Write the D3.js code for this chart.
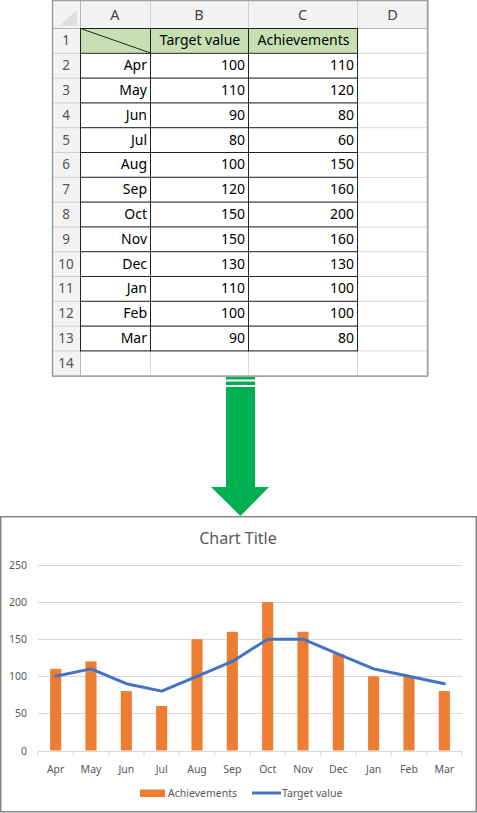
<!DOCTYPE html>
<html><head><meta charset="utf-8">
<script src="https://cdn.jsdelivr.net/npm/d3@7"></script>
<style>body{margin:0;background:#fff}svg{display:block}</style>
</head><body>
<script>
const months = ["Apr","May","Jun","Jul","Aug","Sep","Oct","Nov","Dec","Jan","Feb","Mar"];
const targetValues = [100,110,90,80,100,120,150,150,130,110,100,90];
const achievements = [110,120,80,60,150,160,200,160,130,100,100,80];
const yTicks = [0,50,100,150,200,250];
const colLetters = ["A","B","C","D"];
const seriesNames = ["Target value","Achievements"];
const chartTitle = "Chart Title";

const W = 477, H = 813;
const svg = d3.select("body").append("svg").attr("width", W).attr("height", H);
const font = "'Noto Sans', 'Open Sans', sans-serif";

/* ---------- spreadsheet ---------- */
const colEdges = [52, 80, 150, 248, 357, 428];
const headerH = 28, rowH = 24.8, nRows = 14;
const rowTop = r => headerH + (r - 1) * rowH; // r = 1..14
const sheet = svg.append("g");
sheet.append("rect").attr("x", colEdges[0]).attr("y", 0)
  .attr("width", colEdges[5] - colEdges[0]).attr("height", rowTop(nRows + 1))
  .attr("fill", "#fff");
sheet.append("rect").attr("x", colEdges[0]).attr("y", 0)
  .attr("width", colEdges[5] - colEdges[0]).attr("height", headerH).attr("fill", "#f3f3f3");
sheet.append("rect").attr("x", colEdges[0]).attr("y", 0)
  .attr("width", colEdges[1] - colEdges[0]).attr("height", rowTop(nRows + 1)).attr("fill", "#f3f3f3");
sheet.append("path").attr("d", `M${colEdges[1]-3},${10} L${colEdges[1]-3},${headerH-2} L${colEdges[1]-21},${headerH-2} Z`)
  .attr("fill", "#dfdfdf");
sheet.append("rect").attr("x", colEdges[1]).attr("y", rowTop(1))
  .attr("width", colEdges[4] - colEdges[1]).attr("height", rowH).attr("fill", "#c6e0b4");
for (let r = 1; r <= nRows + 1; r++) {
  sheet.append("line").attr("x1", colEdges[1]).attr("x2", colEdges[5])
    .attr("y1", rowTop(r) + 0.5).attr("y2", rowTop(r) + 0.5).attr("stroke", "#d9d9d9");
  sheet.append("line").attr("x1", colEdges[0]).attr("x2", colEdges[1])
    .attr("y1", rowTop(r) + 0.5).attr("y2", rowTop(r) + 0.5).attr("stroke", "#d0d0d0");
}
for (let c = 1; c < colEdges.length; c++) {
  sheet.append("line").attr("x1", colEdges[c] + 0.5).attr("x2", colEdges[c] + 0.5)
    .attr("y1", headerH).attr("y2", rowTop(nRows + 1)).attr("stroke", "#d9d9d9");
  sheet.append("line").attr("x1", colEdges[c] + 0.5).attr("x2", colEdges[c] + 0.5)
    .attr("y1", 0).attr("y2", headerH).attr("stroke", "#d0d0d0");
}
sheet.append("line").attr("x1", colEdges[0]).attr("x2", colEdges[5])
  .attr("y1", headerH + 0.5).attr("y2", headerH + 0.5).attr("stroke", "#b5b5b5");
sheet.append("line").attr("x1", colEdges[1] + 0.5).attr("x2", colEdges[1] + 0.5)
  .attr("y1", 0).attr("y2", rowTop(nRows + 1)).attr("stroke", "#b5b5b5");
sheet.selectAll("text.col").data(colLetters).join("text")
  .attr("x", (d, i) => (colEdges[i + 1] + colEdges[i + 2]) / 2).attr("y", headerH / 2 + 5.5)
  .attr("text-anchor", "middle").attr("font-family", font).attr("font-size", 14.5).attr("fill", "#444")
  .text(d => d);
sheet.selectAll("text.row").data(d3.range(1, nRows + 1)).join("text")
  .attr("x", (colEdges[0] + colEdges[1]) / 2).attr("y", d => rowTop(d) + rowH / 2 + 5)
  .attr("text-anchor", "middle").attr("font-family", font).attr("font-size", 13.5).attr("fill", "#555")
  .text(d => d);
const tb = sheet.append("g").attr("stroke", "#222").attr("stroke-width", 1);
for (let r = 1; r <= 14; r++) {
  tb.append("line").attr("x1", colEdges[1]).attr("x2", colEdges[4] + 1)
    .attr("y1", rowTop(r) + 0.5).attr("y2", rowTop(r) + 0.5);
}
for (let c = 1; c <= 4; c++) {
  tb.append("line").attr("x1", colEdges[c] + 0.5).attr("x2", colEdges[c] + 0.5)
    .attr("y1", rowTop(1)).attr("y2", rowTop(14) + 1);
}
tb.append("line").attr("x1", colEdges[1] + 2).attr("y1", rowTop(1) + 1)
  .attr("x2", colEdges[2]).attr("y2", rowTop(2));
sheet.selectAll("text.hdr").data(seriesNames).join("text")
  .attr("x", (d, i) => (colEdges[i + 2] + colEdges[i + 3]) / 2 + 1).attr("y", rowTop(1) + rowH / 2 + 5)
  .attr("text-anchor", "middle").attr("font-family", font).attr("font-size", 14).attr("fill", "#000")
  .text(d => d);
const cellText = (vals, col) => sheet.append("g").selectAll("text").data(vals).join("text")
  .attr("x", colEdges[col + 1] - 3).attr("y", (d, i) => rowTop(i + 2) + rowH / 2 + 5)
  .attr("text-anchor", "end").attr("font-family", font).attr("font-size", 14).attr("fill", "#000")
  .text(d => d);
cellText(months, 1);
cellText(targetValues, 2);
cellText(achievements, 3);
sheet.append("rect").attr("x", colEdges[0] + 0.5).attr("y", 0.5)
  .attr("width", colEdges[5] - colEdges[0] - 1).attr("height", rowTop(nRows + 1) + 0.5)
  .attr("fill", "none").attr("stroke", "#a0a0a0").attr("stroke-width", 1.5);

/* ---------- arrow ---------- */
const green = "#00b050";
const arrow = svg.append("g").attr("fill", green);
arrow.append("rect").attr("x", 226).attr("y", 377).attr("width", 29).attr("height", 2.5);
arrow.append("rect").attr("x", 226).attr("y", 381.5).attr("width", 29).attr("height", 3.5);
arrow.append("path").attr("d", "M226,387 L255,387 L255,487 L269,487 L240.5,516 L211,487 L226,487 Z");

/* ---------- chart ---------- */
const cg = svg.append("g");
cg.append("rect").attr("x", 0.75).attr("y", 516.75).attr("width", 475.5).attr("height", 295)
  .attr("fill", "#fff").attr("stroke", "#868686").attr("stroke-width", 1.5);
cg.append("text").attr("x", 238).attr("y", 544).attr("text-anchor", "middle")
  .attr("font-family", font).attr("font-size", 16).attr("fill", "#595959").text(chartTitle);

const x = d3.scaleBand().domain(months).range([38, 462]).paddingInner(0).paddingOuter(0);
const y = d3.scaleLinear().domain([0, 250]).range([750.5, 565]);

cg.append("g").selectAll("line").data(yTicks.filter(d => d > 0)).join("line")
  .attr("x1", 38).attr("x2", 462).attr("y1", d => Math.round(y(d)) + 0.5).attr("y2", d => Math.round(y(d)) + 0.5)
  .attr("stroke", "#d9d9d9");
cg.append("g").selectAll("text").data(yTicks).join("text")
  .attr("x", 27).attr("y", d => y(d) + 4).attr("text-anchor", "end")
  .attr("font-family", font).attr("font-size", 10.5).attr("fill", "#595959").text(d => d);

const bw = x.bandwidth() / 3.19;
cg.append("g").selectAll("rect").data(achievements).join("rect")
  .attr("x", (d, i) => x(months[i]) + x.bandwidth() / 2 - bw / 2)
  .attr("y", d => y(d)).attr("width", bw).attr("height", d => y(0) - y(d))
  .attr("fill", "#ed7d31");

const ax = cg.append("g").attr("transform", `translate(0,${Math.round(y(0)) + 0.5})`);
ax.append("line").attr("x1", 38).attr("x2", 462).attr("stroke", "#d9d9d9");
ax.selectAll("line.t").data(d3.range(0, months.length + 1)).join("line")
  .attr("x1", i => 38 + i * x.step()).attr("x2", i => 38 + i * x.step())
  .attr("y1", 0).attr("y2", 5).attr("stroke", "#d9d9d9");
ax.selectAll("text").data(months).join("text")
  .attr("x", d => x(d) + x.bandwidth() / 2).attr("y", 21).attr("text-anchor", "middle")
  .attr("font-family", font).attr("font-size", 10.5).attr("fill", "#595959").text(d => d);

const line = d3.line().x((d, i) => x(months[i]) + x.bandwidth() / 2).y(d => y(d));
cg.append("path").datum(targetValues).attr("d", line).attr("fill", "none")
  .attr("stroke", "#4472c4").attr("stroke-width", 3).attr("stroke-linejoin", "round").attr("stroke-linecap", "round");

const lg = cg.append("g");
lg.append("rect").attr("x", 140).attr("y", 789.5).attr("width", 25).attr("height", 7.5).attr("fill", "#ed7d31");
lg.append("text").attr("x", 168).attr("y", 797).attr("font-family", font).attr("font-size", 10.5)
  .attr("fill", "#595959").text(seriesNames[1]);
lg.append("line").attr("x1", 252).attr("x2", 281).attr("y1", 793).attr("y2", 793)
  .attr("stroke", "#4472c4").attr("stroke-width", 3);
lg.append("text").attr("x", 282).attr("y", 797).attr("font-family", font).attr("font-size", 10.5)
  .attr("fill", "#595959").text(seriesNames[0]);
</script>
</body></html>
